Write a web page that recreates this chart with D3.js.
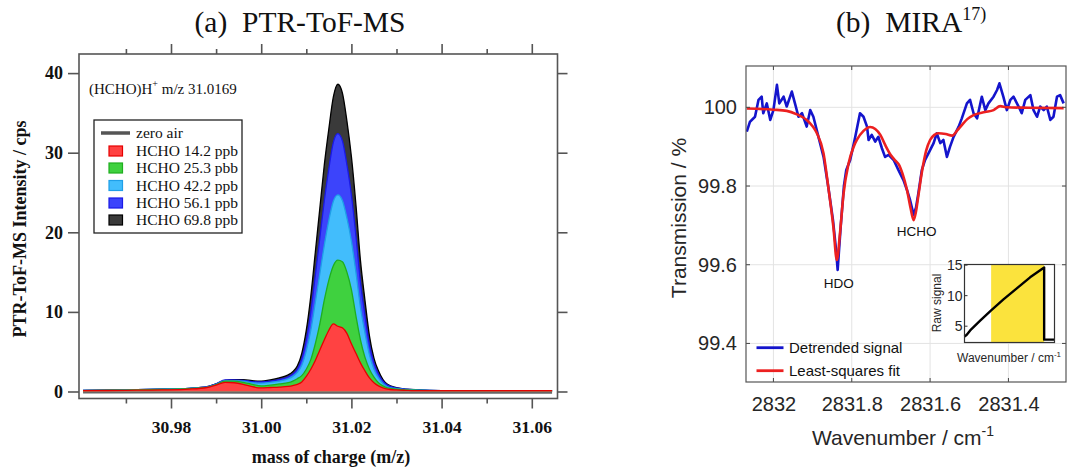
<!DOCTYPE html>
<html><head><meta charset="utf-8">
<script src="https://cdn.jsdelivr.net/npm/d3@7"></script>
<style>
body{margin:0;background:#fff}
svg{display:block}
text{white-space:pre}
</style></head>
<body>
<svg id="chart" width="1068" height="469"></svg>
<script>
// ---------- Panel (a) data ----------
const massAxis = [30.9605,30.970,30.978,30.984,30.988,30.990,30.992,30.994,30.996,30.998,31.000,31.002,31.004,31.006,31.007,31.008,31.009,31.010,31.011,31.012,31.013,31.014,31.015,31.016,31.017,31.018,31.019,31.020,31.021,31.022,31.023,31.024,31.025,31.026,31.027,31.028,31.030,31.032,31.035,31.040,31.045,31.050,31.055,31.060,31.0645];
const hcho698 = [0.15,0.2,0.3,0.4,0.6,0.95,1.4,1.5,1.5,1.35,1.3,1.45,1.7,2.1,2.5,3.2,4.8,7.7,12.0,17.5,23.0,28.5,33.0,37.0,38.6,37.5,34.0,29.5,23.5,16.5,11.5,7.0,4.2,2.6,1.5,0.9,0.5,0.3,0.2,0.12,0.1,0.1,0.1,0.1,0.1];
const hcho561 = [0.15,0.2,0.3,0.4,0.6,0.95,1.45,1.45,1.4,1.25,1.2,1.3,1.5,1.85,2.2,2.8,4.1,6.5,10.0,14.6,19.3,24.0,28.0,31.3,32.4,31.5,28.5,24.7,19.6,13.8,9.6,5.9,3.6,2.2,1.3,0.8,0.45,0.3,0.2,0.12,0.1,0.1,0.1,0.1,0.1];
const hcho422 = [0.15,0.2,0.3,0.4,0.55,0.9,1.35,1.35,1.3,1.1,1.05,1.15,1.3,1.6,1.9,2.4,3.3,5.1,7.7,11.2,14.8,18.4,21.5,23.9,24.7,24.0,21.8,18.9,15.0,10.6,7.4,4.6,2.8,1.7,1.0,0.6,0.35,0.25,0.18,0.1,0.1,0.1,0.1,0.1,0.1];
const hcho253 = [0.12,0.18,0.25,0.35,0.5,0.85,1.3,1.3,1.15,0.9,0.7,0.8,0.95,1.1,1.3,1.6,2.0,2.8,4.0,6.0,8.5,11.5,14.0,15.8,16.5,16.3,15.0,12.8,9.5,6.5,4.3,2.8,1.8,1.1,0.7,0.45,0.3,0.2,0.15,0.1,0.1,0.1,0.1,0.1,0.1];
const hcho142 = [0.1,0.15,0.2,0.3,0.5,0.8,1.15,1.1,0.9,0.6,0.45,0.5,0.55,0.65,0.75,0.9,1.2,1.9,2.8,3.9,5.2,6.5,7.7,8.5,8.2,8.0,7.3,6.0,4.8,3.6,2.6,1.7,1.1,0.7,0.45,0.3,0.2,0.15,0.1,0.1,0.1,0.1,0.1,0.1,0.1];
const zeroAirMass = [30.9605,30.980,31.000,31.020,31.040,31.0645];
const zeroAir = [-0.05,-0.05,-0.1,-0.1,-0.1,-0.1];
const seriesLabels = ["HCHO 14.2 ppb","HCHO 25.3 pbb","HCHO 42.2 ppb","HCHO 56.1 ppb","HCHO 69.8 ppb"];
const seriesFill = ["#ff4242","#3fd13f","#42bdfc","#3c44fb","#3a3a3a"];
const seriesStroke = ["#e60000","#1fae1f","#1f9fe8","#1a1ae6","#000000"];
const massTicks = [30.98,31.00,31.02,31.04,31.06];
const massMinorTicks = [30.97,30.99,31.01,31.03,31.05];
const intensityTicks = [0,10,20,30,40];

// ---------- Panel (b) data ----------
const signalWn = [2832.068,2832.060,2832.047,2832.038,2832.030,2832.026,2832.017,2832.008,2832.000,2831.991,2831.985,2831.974,2831.966,2831.953,2831.945,2831.936,2831.927,2831.915,2831.906,2831.898,2831.885,2831.872,2831.860,2831.848,2831.840,2831.836,2831.828,2831.820,2831.814,2831.804,2831.791,2831.779,2831.770,2831.761,2831.757,2831.749,2831.740,2831.732,2831.723,2831.715,2831.706,2831.693,2831.681,2831.668,2831.659,2831.651,2831.642,2831.636,2831.630,2831.621,2831.613,2831.600,2831.591,2831.583,2831.574,2831.566,2831.557,2831.549,2831.540,2831.527,2831.519,2831.506,2831.498,2831.489,2831.480,2831.468,2831.459,2831.451,2831.438,2831.429,2831.423,2831.413,2831.404,2831.395,2831.387,2831.374,2831.366,2831.357,2831.344,2831.336,2831.327,2831.319,2831.310,2831.302,2831.293,2831.285,2831.276,2831.268,2831.259];
const signalT = [99.938,99.963,99.976,100.019,100.027,99.985,100.010,99.968,99.993,100.057,100.010,100.027,100.002,100.040,100.010,99.976,99.985,99.951,99.993,99.976,99.925,99.874,99.798,99.714,99.637,99.587,99.700,99.800,99.841,99.866,99.925,99.985,99.976,99.951,99.917,99.930,99.913,99.925,99.896,99.874,99.879,99.866,99.841,99.815,99.790,99.764,99.727,99.745,99.781,99.841,99.866,99.891,99.909,99.934,99.909,99.917,99.874,99.900,99.925,99.951,99.972,100.010,100.019,99.985,99.972,100.027,99.993,100.010,100.027,100.044,100.061,100.027,99.993,100.019,100.027,100.002,99.985,100.019,100.031,99.993,99.976,100.002,99.993,100.002,99.968,99.976,100.027,100.031,100.010];
const fitWn = [2832.068,2832.000,2831.966,2831.940,2831.915,2831.900,2831.889,2831.872,2831.860,2831.847,2831.838,2831.830,2831.821,2831.808,2831.795,2831.787,2831.770,2831.753,2831.740,2831.727,2831.715,2831.700,2831.690,2831.680,2831.670,2831.659,2831.650,2831.642,2831.636,2831.630,2831.621,2831.610,2831.600,2831.589,2831.579,2831.560,2831.544,2831.530,2831.519,2831.505,2831.489,2831.460,2831.438,2831.421,2831.404,2831.350,2831.259];
const fitT = [99.997,99.994,99.991,99.982,99.968,99.952,99.934,99.883,99.798,99.697,99.612,99.680,99.780,99.858,99.900,99.917,99.940,99.950,99.945,99.930,99.905,99.878,99.866,99.855,99.830,99.790,99.745,99.713,99.735,99.775,99.835,99.890,99.917,99.930,99.934,99.932,99.928,99.942,99.955,99.970,99.980,99.988,99.993,100.003,100.000,99.999,99.998];
const wnTicks = [2832,2831.8,2831.6,2831.4];
const transTicks = [99.4,99.6,99.8,100];
const insetX = [0,2.5,6.3,17.4,29.6,43.3,58.1,72.9,88.5,88.5,100];
const insetRaw = [3.3,3.6,4.3,5.9,7.6,9.4,11.2,13.0,14.6,2.8,2.8];
const insetBand = [29.6,88.5];
const insetTicks = [5,10,15];

const svg = d3.select("#chart");
svg.append("rect").attr("width",1068).attr("height",469).attr("fill","#fff");

// ================= Panel (a) =================
const A = {l:79,t:54,r:557.5,b:398.5};
const xA = d3.scaleLinear().domain([30.9596,31.0657]).range([A.l,A.r]);
const yA = d3.scaleLinear().domain([-0.88,42.4]).range([A.b,A.t]);
const serif = "'Liberation Serif','Times New Roman',serif";

svg.append("text").attr("x",300).attr("y",32).attr("text-anchor","middle")
  .attr("font-family",serif).attr("font-size",29.5).attr("fill","#111").text("(a)  PTR-ToF-MS");

const gA = svg.append("g");
gA.append("path").datum(zeroAirMass.map((m,i)=>[m,zeroAir[i]]))
  .attr("d",d3.line().x(d=>xA(d[0])).y(d=>yA(d[1])))
  .attr("fill","none").attr("stroke","#666").attr("stroke-width",3);

const seriesA = [hcho142,hcho253,hcho422,hcho561,hcho698];
const area = d3.area().x(d=>xA(d[0])).y0(yA(0)).y1(d=>yA(d[1])).curve(d3.curveMonotoneX);
const line = d3.line().x(d=>xA(d[0])).y(d=>yA(d[1])).curve(d3.curveMonotoneX);
for (let k=4;k>=0;k--){
  const pts = massAxis.map((m,i)=>[m,seriesA[k][i]]);
  gA.append("path").datum(pts).attr("d",area).attr("fill",seriesFill[k]);
  gA.append("path").datum(pts).attr("d",line).attr("fill","none")
    .attr("stroke",seriesStroke[k]).attr("stroke-width",1.3);
}

svg.append("rect").attr("x",A.l).attr("y",A.t).attr("width",A.r-A.l).attr("height",A.b-A.t)
  .attr("fill","none").attr("stroke","#555").attr("stroke-width",1.6);

function styleAxis(g, fs){
  g.selectAll(".domain").remove();
  g.selectAll(".tick line").attr("stroke","#555").attr("stroke-width",1.6);
  g.selectAll(".tick text").attr("font-family",serif).attr("font-weight","bold")
    .attr("font-size",fs).attr("fill","#111");
}
const bx = svg.append("g").attr("transform",`translate(0,${A.b})`)
  .call(d3.axisBottom(xA).tickValues(massTicks).tickFormat(d3.format(".2f")).tickSize(10).tickPadding(12));
styleAxis(bx,17.5);
const bxm = svg.append("g").attr("transform",`translate(0,${A.b})`)
  .call(d3.axisBottom(xA).tickValues(massMinorTicks).tickFormat("").tickSize(5));
styleAxis(bxm,17);
const tx = svg.append("g").attr("transform",`translate(0,${A.t})`)
  .call(d3.axisTop(xA).tickValues(massTicks).tickFormat("").tickSize(10));
styleAxis(tx,17);
const txm = svg.append("g").attr("transform",`translate(0,${A.t})`)
  .call(d3.axisTop(xA).tickValues(massMinorTicks).tickFormat("").tickSize(5));
styleAxis(txm,17);
const ly = svg.append("g").attr("transform",`translate(${A.l},0)`)
  .call(d3.axisLeft(yA).tickValues(intensityTicks).tickSize(11).tickPadding(5));
styleAxis(ly,18);
const ry = svg.append("g").attr("transform",`translate(${A.r},0)`)
  .call(d3.axisRight(yA).tickValues(intensityTicks).tickFormat("").tickSize(10));
styleAxis(ry,18);

svg.append("text").attr("x",331).attr("y",463).attr("text-anchor","middle")
  .attr("font-family",serif).attr("font-weight","bold").attr("font-size",18).attr("fill","#111")
  .text("mass of charge (m/z)");
svg.append("text").attr("transform","translate(26,229) rotate(-90)").attr("text-anchor","middle")
  .attr("font-family",serif).attr("font-weight","bold").attr("font-size",18).attr("fill","#111")
  .text("PTR-ToF-MS Intensity / cps");

const ann = svg.append("text").attr("x",89).attr("y",94).attr("font-family",serif).attr("font-size",15).attr("fill","#111");
ann.append("tspan").text("(HCHO)H");
ann.append("tspan").attr("dy",-7).attr("font-size",10).text("+");
ann.append("tspan").attr("dy",7).text(" m/z 31.0169");

const lg = svg.append("g");
lg.append("rect").attr("x",94).attr("y",120).attr("width",148).attr("height",113)
  .attr("fill","#fff").attr("stroke","#222").attr("stroke-width",1.3);
const rowY = [133,151,168,185.5,203,220];
lg.append("line").attr("x1",101).attr("x2",130).attr("y1",rowY[0]).attr("y2",rowY[0])
  .attr("stroke","#555").attr("stroke-width",3.5);
lg.append("text").attr("x",136).attr("y",rowY[0]+4.5).attr("font-family",serif).attr("font-size",15.5).attr("fill","#111").text("zero air");
seriesLabels.forEach((s,i)=>{
  const y = rowY[i+1];
  lg.append("rect").attr("x",109).attr("y",y-5).attr("width",13.5).attr("height",10)
    .attr("fill",seriesFill[i]).attr("stroke",seriesStroke[i]).attr("stroke-width",1.2);
  lg.append("text").attr("x",136).attr("y",y+5).attr("font-family",serif).attr("font-size",15.5).attr("fill","#111").text(s);
});

// ================= Panel (b) =================
const B = {l:746,t:66,r:1066,b:382};
const xB = d3.scaleLinear().domain([2832.070,2831.253]).range([B.l,B.r]);
const yB = d3.scaleLinear().domain([99.302,100.105]).range([B.b,B.t]);
const sans = "'Liberation Sans',Arial,sans-serif";

const tb = svg.append("text").attr("x",836).attr("y",32).attr("font-family",serif).attr("font-size",29.5).attr("fill","#111");
tb.append("tspan").text("(b)  MIRA");
tb.append("tspan").attr("dy",-12).attr("font-size",18).text("17)");

const gB = svg.append("g");
gB.selectAll(".gx").data(wnTicks).join("line").attr("x1",d=>xB(d)).attr("x2",d=>xB(d))
  .attr("y1",B.t).attr("y2",B.b).attr("stroke","#e3e3e3").attr("stroke-width",1);
gB.selectAll(".gy").data(transTicks).join("line").attr("y1",d=>yB(d)).attr("y2",d=>yB(d))
  .attr("x1",B.l).attr("x2",B.r).attr("stroke","#e3e3e3").attr("stroke-width",1);

svg.append("clipPath").attr("id","clipB").append("rect")
  .attr("x",B.l).attr("y",B.t).attr("width",B.r-B.l).attr("height",B.b-B.t);
const lineB = d3.line().x(d=>xB(d[0])).y(d=>yB(d[1]));
gB.append("path").datum(signalWn.map((w,i)=>[w,signalT[i]])).attr("d",lineB)
  .attr("clip-path","url(#clipB)").attr("fill","none").attr("stroke","#1414cc").attr("stroke-width",2.6).attr("stroke-linejoin","round");
gB.append("path").datum(fitWn.map((w,i)=>[w,fitT[i]])).attr("d",lineB.curve(d3.curveMonotoneX))
  .attr("clip-path","url(#clipB)").attr("fill","none").attr("stroke","#ec2020").attr("stroke-width",2.6);

const bxB = svg.append("g").attr("transform",`translate(0,${B.b})`)
  .call(d3.axisBottom(xB).tickValues(wnTicks).tickFormat(d=>d3.format("~f")(d)).tickSize(0).tickPadding(15));
bxB.selectAll(".domain").remove();
bxB.selectAll(".tick text").attr("font-family",sans).attr("font-size",20).attr("fill","#262626");
const lyB = svg.append("g").attr("transform",`translate(${B.l},0)`)
  .call(d3.axisLeft(yB).tickValues(transTicks).tickFormat(d=>d3.format("~f")(d)).tickSize(0).tickPadding(9));
lyB.selectAll(".domain").remove();
lyB.selectAll(".tick text").attr("font-family",sans).attr("font-size",20).attr("fill","#262626");
gB.selectAll(".itx").data(wnTicks).join("line").attr("x1",d=>xB(d)).attr("x2",d=>xB(d))
  .attr("y1",B.b).attr("y2",B.b-4).attr("stroke","#444");
gB.selectAll(".itx2").data(wnTicks).join("line").attr("x1",d=>xB(d)).attr("x2",d=>xB(d))
  .attr("y1",B.t).attr("y2",B.t+4).attr("stroke","#444");
gB.selectAll(".ity").data(transTicks).join("line").attr("y1",d=>yB(d)).attr("y2",d=>yB(d))
  .attr("x1",B.l).attr("x2",B.l+4).attr("stroke","#444");
gB.selectAll(".ity2").data(transTicks).join("line").attr("y1",d=>yB(d)).attr("y2",d=>yB(d))
  .attr("x1",B.r).attr("x2",B.r-4).attr("stroke","#444");
svg.append("rect").attr("x",B.l).attr("y",B.t).attr("width",B.r-B.l).attr("height",B.b-B.t)
  .attr("fill","none").attr("stroke","#555").attr("stroke-width",1.2);

const xt = svg.append("text").attr("x",903).attr("y",445).attr("text-anchor","middle")
  .attr("font-family",sans).attr("font-size",21).attr("fill","#262626");
xt.append("tspan").text("Wavenumber / cm");
xt.append("tspan").attr("dy",-9).attr("font-size",14).text("-1");
svg.append("text").attr("transform","translate(686,218) rotate(-90)").attr("text-anchor","middle")
  .attr("font-family",sans).attr("font-size",21).attr("fill","#262626").text("Transmission / %");

svg.append("text").attr("x",xB(2831.836)+1).attr("y",288).attr("text-anchor","middle")
  .attr("font-family",sans).attr("font-size",13.5).attr("fill","#111").text("HDO");
svg.append("text").attr("x",xB(2831.642)+3).attr("y",236).attr("text-anchor","middle")
  .attr("font-family",sans).attr("font-size",13.5).attr("fill","#111").text("HCHO");

[["Detrended signal","#1414cc",347.7],["Least-squares fit","#ec2020",370.7]].forEach(d=>{
  svg.append("line").attr("x1",756.5).attr("x2",783.5).attr("y1",d[2]).attr("y2",d[2])
    .attr("stroke",d[1]).attr("stroke-width",2.8);
  svg.append("text").attr("x",789).attr("y",d[2]+5.5).attr("font-family",sans).attr("font-size",15)
    .attr("fill","#111").text(d[0]);
});

// inset
const I = {l:964.5,t:264.5,r:1054.5,b:342.5};
const xI = d3.scaleLinear().domain([0,100]).range([I.l,I.r]);
const yI = d3.scaleLinear().domain([2.33,15.1]).range([I.b,I.t]);
svg.append("rect").attr("x",I.l).attr("y",I.t).attr("width",I.r-I.l).attr("height",I.b-I.t).attr("fill","#fff");
svg.append("rect").attr("x",xI(insetBand[0])).attr("y",I.t).attr("width",xI(insetBand[1])-xI(insetBand[0]))
  .attr("height",I.b-I.t).attr("fill","#fbe33d");
svg.append("path").datum(insetX.map((x,i)=>[x,insetRaw[i]]))
  .attr("d",d3.line().x(d=>xI(d[0])).y(d=>yI(d[1])))
  .attr("fill","none").attr("stroke","#000").attr("stroke-width",2.4).attr("stroke-linejoin","round");
svg.append("rect").attr("x",I.l).attr("y",I.t).attr("width",I.r-I.l).attr("height",I.b-I.t)
  .attr("fill","none").attr("stroke","#333").attr("stroke-width",1.2);
const iy = svg.append("g").attr("transform",`translate(${I.l},0)`)
  .call(d3.axisLeft(yI).tickValues(insetTicks).tickSize(0).tickPadding(2));
iy.selectAll(".domain").remove();
iy.selectAll(".tick text").attr("font-family",sans).attr("font-size",14).attr("fill","#262626");
svg.selectAll(".iyt").data(insetTicks).join("line").attr("x1",I.l).attr("x2",I.l+3)
  .attr("y1",d=>yI(d)).attr("y2",d=>yI(d)).attr("stroke","#333");
svg.append("text").attr("transform","translate(941,303) rotate(-90)").attr("text-anchor","middle")
  .attr("font-family",sans).attr("font-size",12).attr("fill","#262626").text("Raw signal");
const it = svg.append("text").attr("x",957).attr("y",362).attr("font-family",sans).attr("font-size",12).attr("fill","#262626");
it.append("tspan").text("Wavenumber / cm");
it.append("tspan").attr("dy",-5).attr("font-size",8).text("-1");
</script>
</body></html>
